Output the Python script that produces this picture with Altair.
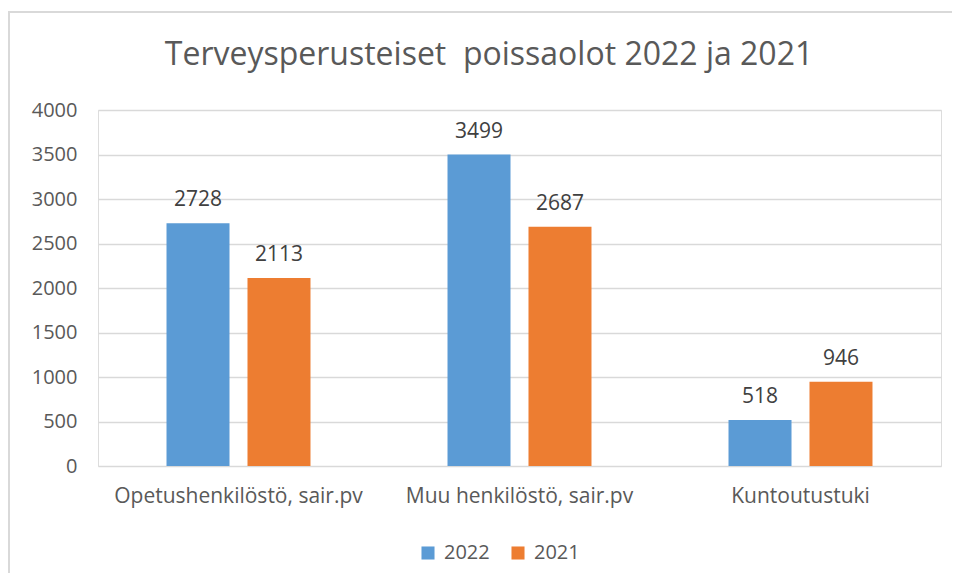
import altair as alt
import pandas as pd

categories = ["Opetushenkilöstö, sair.pv", "Muu henkilöstö, sair.pv", "Kuntoutustuki"]
years = ["2022", "2021"]
values_2022 = [2728, 3499, 518]
values_2021 = [2113, 2687, 946]
colors = ["#5B9BD5", "#ED7D31"]
title_text = "Terveysperusteiset\u00a0 poissaolot 2022 ja 2021"

rows = []
for c, v22, v21 in zip(categories, values_2022, values_2021):
    rows.append({"Kategoria": c, "Vuosi": "2022", "Arvo": v22})
    rows.append({"Kategoria": c, "Vuosi": "2021", "Arvo": v21})
df = pd.DataFrame(rows)

FONT = "Open Sans"
TXT = "#595959"

x_enc = alt.X("Kategoria:N", sort=categories,
              scale=alt.Scale(paddingInner=0, paddingOuter=0),
              axis=alt.Axis(title=None, labelAngle=0, labelFontSize=21, labelFont=FONT,
                            labelColor=TXT, ticks=False, tickSize=0, domain=False,
                            labelPadding=19, grid=False, labelLimit=0))
xo_enc = alt.XOffset("Vuosi:N", sort=years,
                     scale=alt.Scale(paddingInner=0.222, paddingOuter=0.846))
y_enc = alt.Y("Arvo:Q", scale=alt.Scale(domain=[0, 4000]),
              axis=alt.Axis(title=None, values=list(range(0, 4001, 500)), format="d",
                            labelFontSize=20, labelFont=FONT, labelColor=TXT, ticks=False,
                            tickSize=0, domain=False, labelPadding=21,
                            gridColor="#d9d9d9", gridWidth=1.5))

base = alt.Chart(df).encode(x=x_enc, xOffset=xo_enc, y=y_enc)

bars = base.mark_bar().encode(
    color=alt.Color("Vuosi:N", sort=years,
                    scale=alt.Scale(domain=years, range=colors),
                    legend=alt.Legend(title=None, orient="none", legendX=320, legendY=433,
                                      direction="horizontal", symbolType="square",
                                      symbolSize=170, symbolStrokeWidth=0,
                                      labelFontSize=20, labelFont=FONT, labelColor=TXT,
                                      labelOffset=6, columnPadding=18, padding=0))
)

labels = base.mark_text(baseline="alphabetic", dy=-17, fontSize=21, font=FONT,
                        color="#404040").encode(text="Arvo:Q")

frame_df = pd.DataFrame({"t": [title_text]})
left_border = alt.Chart(frame_df).mark_rule(color="#d9d9d9", strokeWidth=2, clip=False).encode(
    x=alt.value(-89), y=alt.value(-98), y2=alt.value(480))
top_border = alt.Chart(frame_df).mark_rule(color="#d9d9d9", strokeWidth=2, clip=False).encode(
    x=alt.value(-90), x2=alt.value(870), y=alt.value(-98))
title = alt.Chart(frame_df).mark_text(fontSize=32, font=FONT, color=TXT, align="center",
                                      baseline="alphabetic").encode(
    x=alt.value(391), y=alt.value(-45), text="t:N")

chart = alt.layer(bars, labels, left_border, top_border, title).properties(
    width=843, height=356,
    autosize=alt.AutoSizeParams(type="none"),
    padding={"left": 90, "top": 102, "right": 11, "bottom": 107},
).configure_view(stroke=None).configure(background="white")

chart.save("out.html", embed_options={"renderer": "svg", "actions": False})
